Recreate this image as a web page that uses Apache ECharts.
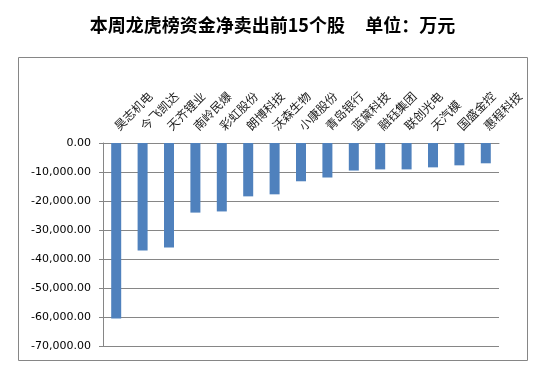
<!DOCTYPE html>
<html>
<head>
<meta charset="utf-8">
<script src="https://cdn.jsdelivr.net/npm/echarts@6/dist/echarts.min.js"></script>
<style>
  html, body { margin: 0; padding: 0; background: #fff; }
  #main { width: 545px; height: 378px; }
</style>
</head>
<body>
<div id="main"></div>
<script>
// 股票名稱
const stockNames = ['昊志机电', '今飞凯达', '天齐锂业', '南岭民爆', '彩虹股份', '朗博科技', '沃森生物',
  '小康股份', '青岛银行', '蓝黛科技', '融钰集团', '联创光电', '天汽模', '国盛金控', '惠程科技'];
// 净卖出金额（万元）
const netSellValues = [-60500, -37100, -36000, -24000, -23600, -18400, -17700,
  -13200, -11900, -9500, -9100, -9100, -8400, -7700, -7000];
// 纵轴刻度
const yMin = -70000;
const yMax = 0;
const yStep = 10000;

const chart = echarts.init(document.getElementById('main'));

const option = {
  animation: false,
  title: {
    text: '本周龙虎榜资金净卖出前15个股     单位：万元',
    left: 'center',
    top: 11,
    textStyle: {
      fontFamily: 'Noto Sans CJK SC',
      fontSize: 18,
      fontWeight: 'bold',
      color: '#000'
    }
  },
  graphic: [{
    type: 'rect',
    shape: { x: 18.5, y: 57.5, width: 509, height: 303 },
    style: { fill: 'none', stroke: '#868686', lineWidth: 1 },
    z: -1
  }],
  grid: {
    left: 103,
    top: 143,
    right: 46,
    bottom: 32
  },
  xAxis: {
    type: 'category',
    position: 'top',
    data: stockNames,
    axisLine: { lineStyle: { color: '#868686', width: 1 } },
    axisTick: { inside: true, length: 4, lineStyle: { color: '#868686' } },
    axisLabel: {
      rotate: 45,
      interval: 0,
      margin: 15,
      color: '#222',
      fontSize: 12,
      fontFamily: 'Noto Sans CJK SC'
    }
  },
  yAxis: {
    type: 'value',
    min: yMin,
    max: yMax,
    interval: yStep,
    axisLine: { show: true, lineStyle: { color: '#868686', width: 1 } },
    axisTick: { show: true, length: 4, lineStyle: { color: '#868686' } },
    splitLine: { lineStyle: { color: '#868686', width: 1 } },
    axisLabel: {
      margin: 12,
      color: '#000',
      fontSize: 11,
      fontFamily: 'DejaVu Sans',
      formatter: v => v.toLocaleString('en-US', { minimumFractionDigits: 2, maximumFractionDigits: 2 })
    }
  },
  series: [{
    type: 'bar',
    data: netSellValues,
    barWidth: 10,
    itemStyle: { color: '#4F81BD' }
  }]
};

chart.setOption(option);
</script>
</body>
</html>
